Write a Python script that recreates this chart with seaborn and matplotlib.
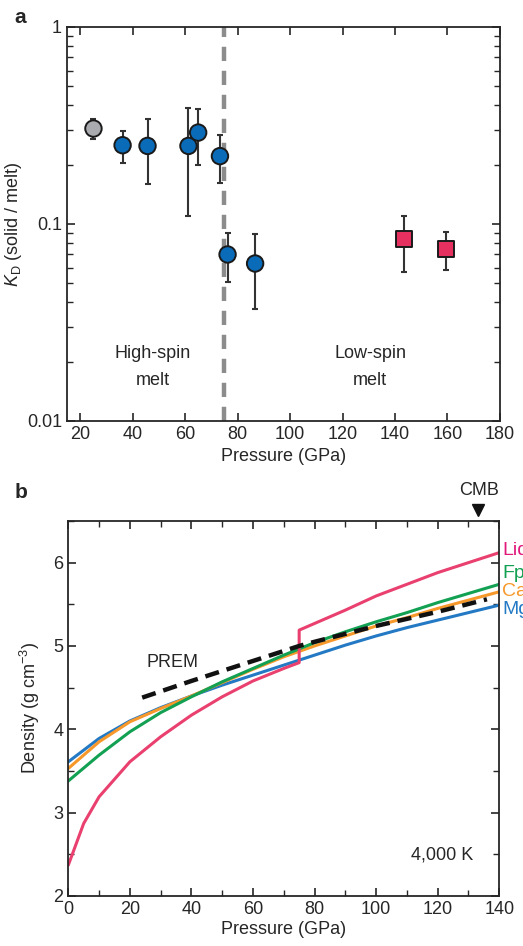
import numpy as np
import pandas as pd
import matplotlib
matplotlib.use("Agg")
from matplotlib import pyplot as plt
from matplotlib.ticker import MultipleLocator, LogLocator, NullFormatter
import seaborn as sns

# ---- panel a: partition coefficients ----
kd_pressure = [25.1, 36.2, 45.7, 61.3, 65.0, 73.3, 76.2, 86.7, 143.5, 159.3]
kd_value = [0.305, 0.251, 0.249, 0.249, 0.291, 0.221, 0.070, 0.063, 0.084, 0.075]
kd_upper = [0.340, 0.298, 0.343, 0.389, 0.383, 0.283, 0.090, 0.0887, 0.110, 0.091]
kd_lower = [0.269, 0.205, 0.159, 0.110, 0.200, 0.161, 0.0506, 0.037, 0.0573, 0.0587]
kd_group = ["grey", "blue", "blue", "blue", "blue", "blue", "blue", "blue", "red", "red"]
spin_transition = 74.7

# ---- panel b: densities at 4,000 K ----
p_grid = [0, 10, 20, 30, 40, 50, 60, 70, 80, 90, 100, 110, 120, 130, 140]
rho_fp = [3.38, 3.69, 3.97, 4.20, 4.39, 4.57, 4.73, 4.89, 5.04, 5.17, 5.29, 5.40, 5.52, 5.63, 5.74]
rho_ca = [3.53, 3.85, 4.09, 4.25, 4.40, 4.56, 4.72, 4.87, 5.00, 5.12, 5.24, 5.34, 5.45, 5.55, 5.65]
rho_mg = [3.61, 3.89, 4.10, 4.26, 4.40, 4.53, 4.65, 4.77, 4.89, 5.01, 5.12, 5.22, 5.31, 5.40, 5.49]
liq_p = [0, 5, 10, 20, 30, 40, 50, 60, 70, 75, 75, 80, 90, 100, 110, 120, 130, 140]
liq_rho = [2.37, 2.87, 3.19, 3.61, 3.91, 4.17, 4.39, 4.58, 4.73, 4.80, 5.19, 5.27, 5.43, 5.60, 5.74, 5.88, 6.00, 6.12]
prem_p = [24, 40, 60, 75, 80, 100, 120, 136]
prem_rho = [4.38, 4.58, 4.82, 5.00, 5.05, 5.24, 5.41, 5.56]
cmb_pressure = 133

sns.set_style("ticks")
plt.rcParams["font.family"] = ["Liberation Sans", "DejaVu Sans"]
plt.rcParams["mathtext.fontset"] = "custom"
plt.rcParams["mathtext.rm"] = "Liberation Sans"
plt.rcParams["mathtext.it"] = "Liberation Sans:italic"
plt.rcParams["font.size"] = 13
plt.rcParams["axes.linewidth"] = 1.3
plt.rcParams["xtick.direction"] = "in"
plt.rcParams["ytick.direction"] = "in"
plt.rcParams["xtick.major.size"] = 6
plt.rcParams["ytick.major.size"] = 6
plt.rcParams["xtick.minor.size"] = 4
plt.rcParams["ytick.minor.size"] = 4
plt.rcParams["xtick.major.width"] = 1.2
plt.rcParams["ytick.major.width"] = 1.2
plt.rcParams["xtick.minor.width"] = 1.0
plt.rcParams["ytick.minor.width"] = 1.0
plt.rcParams["xtick.top"] = True
plt.rcParams["ytick.right"] = True

fig = plt.figure(figsize=(5.23, 9.46), dpi=100)
ax_a = fig.add_axes([0.128, 0.555, 0.828, 0.4165])
ax_b = fig.add_axes([0.1306, 0.0529, 0.824, 0.3964])

# panel a
df_a = pd.DataFrame({"p": kd_pressure, "kd": kd_value, "hi": kd_upper,
                     "lo": kd_lower, "group": kd_group})
ax_a.axvline(spin_transition, color="#8c8c8c", lw=3.2, ls=(0, (3.2, 2.2)), zorder=1)
ax_a.errorbar(df_a["p"], df_a["kd"],
              yerr=[df_a["kd"] - df_a["lo"], df_a["hi"] - df_a["kd"]],
              fmt="none", ecolor="#333333", elinewidth=1.5, capsize=2.5, capthick=1.5, zorder=2)
circles = df_a[df_a["group"] != "red"]
sns.scatterplot(data=circles, x="p", y="kd", hue="group",
                palette={"grey": "#a9abae", "blue": "#0a6bb8"},
                s=140, edgecolor="#1a1a1a", linewidth=1.4, legend=False, ax=ax_a, zorder=3)
squares = df_a[df_a["group"] == "red"]
sns.scatterplot(data=squares, x="p", y="kd", color="#e6305f", marker="s",
                s=130, edgecolor="#1a1a1a", linewidth=1.4, legend=False, ax=ax_a, zorder=3)
ax_a.set_yscale("log")
ax_a.set_xlim(15, 180)
ax_a.set_ylim(0.01, 1)
ax_a.xaxis.set_major_locator(MultipleLocator(20))
ax_a.yaxis.set_minor_locator(LogLocator(base=10, subs=np.arange(2, 10), numticks=20))
ax_a.yaxis.set_minor_formatter(NullFormatter())
ax_a.set_yticks([0.01, 0.1, 1])
ax_a.set_yticklabels(["0.01", "0.1", "1"])
ax_a.set_xlabel("Pressure (GPa)", labelpad=4)
ax_a.set_ylabel(r"$K_\mathrm{D}$ (solid / melt)", labelpad=2)
ax_a.text(47.6, 0.0221, "High-spin", ha="center", va="center")
ax_a.text(47.6, 0.0161, "melt", ha="center", va="center")
ax_a.text(130.5, 0.0221, "Low-spin", ha="center", va="center")
ax_a.text(130.5, 0.0161, "melt", ha="center", va="center")
fig.text(0.028, 0.982, "a", fontsize=15, fontweight="bold", va="center")

# panel b
curves = pd.concat([
    pd.DataFrame({"p": p_grid, "rho": rho_mg, "phase": "MgPv"}),
    pd.DataFrame({"p": p_grid, "rho": rho_ca, "phase": "CaPv"}),
    pd.DataFrame({"p": p_grid, "rho": rho_fp, "phase": "Fp"}),
])
line_colors = {"MgPv": "#2379c4", "CaPv": "#f7982a", "Fp": "#12a052", "Liquid": "#e9406f"}
sns.lineplot(data=curves, x="p", y="rho", hue="phase", palette=line_colors,
             lw=2.2, legend=False, ax=ax_b, sort=False)
ax_b.plot(liq_p, liq_rho, color=line_colors["Liquid"], lw=2.2)
sns.lineplot(x=prem_p, y=prem_rho, color="#111111", lw=3.2, ax=ax_b,
             dashes=False, linestyle=(0, (3.2, 1.8)))
ax_b.set_xlim(0, 140)
ax_b.set_ylim(2, 6.5)
ax_b.xaxis.set_major_locator(MultipleLocator(20))
ax_b.xaxis.set_minor_locator(MultipleLocator(10))
ax_b.yaxis.set_major_locator(MultipleLocator(1))
ax_b.yaxis.set_minor_locator(MultipleLocator(0.5))
ax_b.set_xlabel("Pressure (GPa)", labelpad=2)
ax_b.set_ylabel(r"Density (g cm$^{-3}$)", labelpad=8)
ax_b.text(34, 4.8, "PREM", ha="center", va="center")
ax_b.text(121.5, 2.49, "4,000 K", ha="center", va="center")
# phase labels run off the right edge, as in the original figure
label_y = {"Liquid": 6.15, "Fp": 5.87, "CaPv": 5.65, "MgPv": 5.44}
for name, yv in label_y.items():
    ax_b.text(141, yv, name, color=line_colors[name] if name != "Liquid" else "#e0197a",
              ha="left", va="center", clip_on=False, fontsize=14)
ax_b.plot([cmb_pressure], [6.63], marker="v", color="#111111", ms=8, clip_on=False)
ax_b.text(cmb_pressure + 0.6, 6.87, "CMB", ha="center", va="center")
fig.text(0.028, 0.479, "b", fontsize=15, fontweight="bold", va="center")

fig.savefig("out.png", dpi=100)
